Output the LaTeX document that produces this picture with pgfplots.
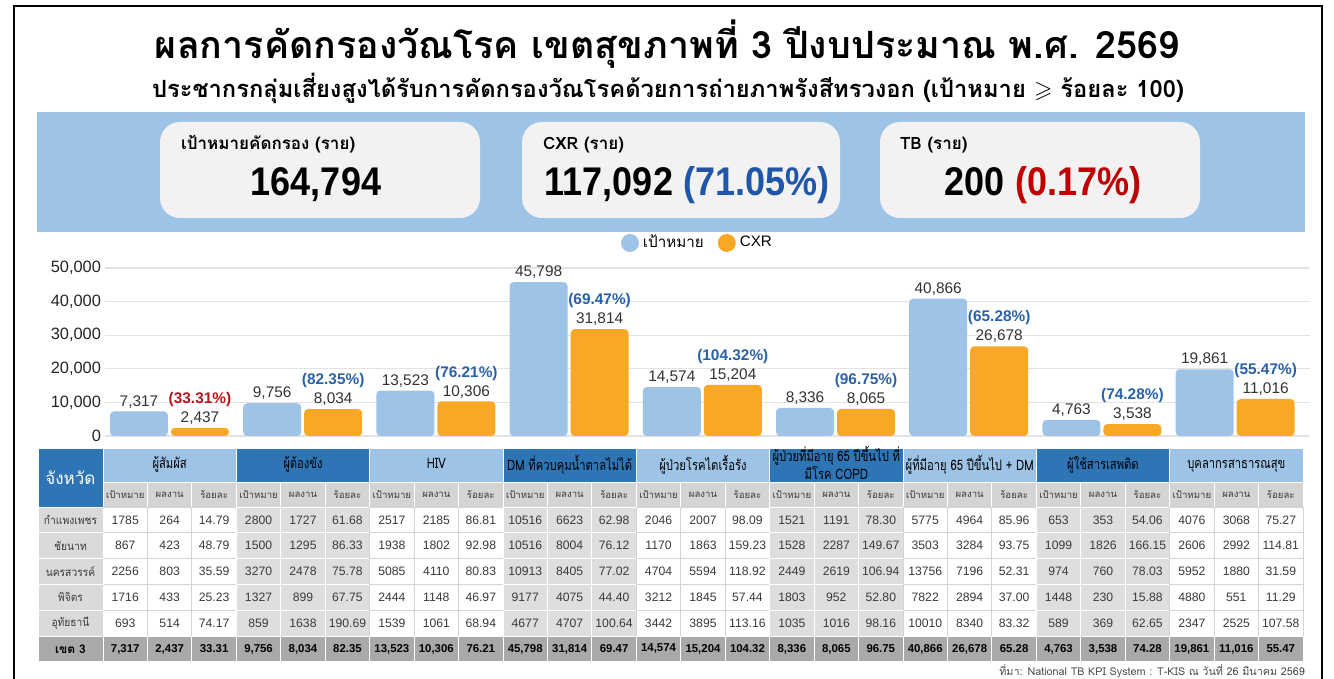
\documentclass[border=0pt]{standalone}
\usepackage{graphicx}
\usepackage{amssymb}
\usepackage{fontspec}
\usepackage{pgfplots}
\pgfplotsset{compat=1.18}
\setmainfont{Liberation Sans}
\newfontfamily\thai[Script=Thai]{Loma}
\definecolor{lblue}{HTML}{9DC3E6}
\definecolor{dblue}{HTML}{2E75B6}
\definecolor{orng}{HTML}{F9A825}
\definecolor{pctblue}{HTML}{2A62A8}
\definecolor{pctred}{HTML}{B3161C}
\definecolor{kblue}{HTML}{1F56A8}
\definecolor{kred}{HTML}{C00000}
\definecolor{boxgray}{HTML}{F2F2F2}
\definecolor{cellgray}{HTML}{DEDEDE}
\definecolor{subgray}{HTML}{D4D4D4}
\definecolor{namegray}{HTML}{DADADA}
\definecolor{totgray}{HTML}{A9A9A9}
\definecolor{gridc}{HTML}{E2E2E2}
\definecolor{txtgray}{HTML}{3A3A3A}
\DeclareRobustCommand\pl[3]{\textbf{\textcolor{#1}{(#2\%)}}\\#3}
\newcommand\rowvals[4]{%
  \foreach \v [count=\c from 0] in {#4} {
    \pgfmathsetmacro\xc{103+44.4444*(\c+0.5)}
    \node[font=#2, text=#3] at (\xc,#1) {\v};
  }}
\begin{document}
\begin{tikzpicture}
\begin{scope}[x=0.5pt,y=-0.5pt]
\path[use as bounding box] (0,0) rectangle (1334,679);
\fill[white] (0,0) rectangle (1334,679);
\draw[line width=1.1pt] (14,6) rectangle (1322,684);
% titles
\node at (667,44) {\resizebox{512pt}{!}{\thai\bfseries ผลการคัดกรองวัณโรค เขตสุขภาพที่ 3 ปีงบประมาณ พ.ศ. 2569}};
\node at (668,88) {\resizebox{516pt}{!}{\thai\bfseries ประชากรกลุ่มเสี่ยงสูงได้รับการคัดกรองวัณโรคด้วยการถ่ายภาพรังสีทรวงอก (เป้าหมาย $\geqslant$ ร้อยละ 100)}};
% KPI band
\fill[lblue] (37,112) rectangle (1305,232);
\fill[boxgray,rounded corners=10pt] (160,122) rectangle (480,218);
\fill[boxgray,rounded corners=10pt] (522,122) rectangle (840,218);
\fill[boxgray,rounded corners=10pt] (880,122) rectangle (1200,218);
\node[anchor=base west] at (174,150) {\thai\bfseries\fontsize{8.5}{10}\selectfont เป้าหมายคัดกรอง (ราย)};
\node[anchor=base west] at (536,150) {\thai\bfseries\fontsize{8.5}{10}\selectfont CXR (ราย)};
\node[anchor=base west] at (893,150) {\thai\bfseries\fontsize{8.5}{10}\selectfont TB (ราย)};
\node[anchor=base] at (316,196) {\scalebox{0.9}[1]{\bfseries\fontsize{20}{24}\selectfont 164,794}};
\node[anchor=base] at (687,196) {\scalebox{0.9}[1]{\bfseries\fontsize{20}{24}\selectfont 117,092 \textcolor{kblue}{(71.05\%)}}};
\node[anchor=base] at (1043,196) {\scalebox{0.9}[1]{\bfseries\fontsize{20}{24}\selectfont 200 \textcolor{kred}{(0.17\%)}}};
% table header
\filldraw[fill=dblue, draw=white, line width=0.5pt] (38,448) rectangle (103,507);
\node[text=white] at (70.5,478) {\thai\fontsize{8.5}{10}\selectfont จังหวัด};
\foreach \nm [count=\g from 0] in {{ผู้สัมผัส},{ผู้ต้องขัง},{HIV},{DM ที่ควบคุมน้ำตาลไม่ได้},{ผู้ป่วยโรคไตเรื้อรัง},{ผู้ป่วยที่มีอายุ 65 ปีขึ้นไป ที่\\มีโรค COPD},{ผู้ที่มีอายุ 65 ปีขึ้นไป + DM},{ผู้ใช้สารเสพติด},{บุคลากรสาธารณสุข}}{
  \pgfmathsetmacro\xa{103+133.3333*\g}
  \pgfmathsetmacro\xb{\xa+133.3333}
  \ifodd\g\relax \def\hc{dblue}\def\cc{cellgray}\def\lc{white}\else \def\hc{lblue}\def\cc{white}\def\lc{subgray}\fi
  \filldraw[fill=\hc, draw=white, line width=0.5pt] (\xa,448) rectangle (\xb,482);
  \node[inner sep=0pt] at ({(\xa+\xb)/2},465) {\scalebox{0.78}[1]{\thai\fontsize{7.2}{8}\selectfont\begin{tabular}{@{}c@{}}\nm\end{tabular}}};
  \foreach \k [count=\kk from 0] in {เป้าหมาย,ผลงาน,ร้อยละ}{
    \pgfmathsetmacro\xl{\xa+44.4444*\kk}
    \pgfmathsetmacro\xr{\xl+44.4444}
    \filldraw[fill=subgray, draw=white, line width=0.5pt] (\xl,482) rectangle (\xr,507);
    \node[font=\thai\fontsize{4.8}{6}\selectfont, text=txtgray] at ({(\xl+\xr)/2},494.5) {\k};
    \foreach \r in {0,...,4}{
      \filldraw[fill=\cc, draw=\lc, line width=0.5pt] (\xl,{507+25.8*\r}) rectangle (\xr,{507+25.8*(\r+1)});
    }
    \filldraw[fill=totgray, draw=white, line width=0.5pt] (\xl,636) rectangle (\xr,661.8);
  }
}
\foreach \nm [count=\r from 0] in {กำแพงเพชร,ชัยนาท,นครสวรรค์,พิจิตร,อุทัยธานี}{
  \filldraw[fill=namegray, draw=white, line width=0.5pt] (38,{507+25.8*\r}) rectangle (103,{507+25.8*(\r+1)});
  \node[text=txtgray] at (70.5,{507+25.8*(\r+0.5)}) {\scalebox{0.9}[1]{\thai\fontsize{5.7}{7}\selectfont \nm}};
}
\filldraw[fill=totgray, draw=white, line width=0.5pt] (38,636) rectangle (103,661.8);
\node[font=\thai\bfseries\fontsize{6}{7}\selectfont] at (70.5,648.9) {เขต 3};
\rowvals{519.9}{\fontsize{6.1}{7}\selectfont}{txtgray}{1785,264,14.79,2800,1727,61.68,2517,2185,86.81,10516,6623,62.98,2046,2007,98.09,1521,1191,78.30,5775,4964,85.96,653,353,54.06,4076,3068,75.27}
\rowvals{545.7}{\fontsize{6.1}{7}\selectfont}{txtgray}{867,423,48.79,1500,1295,86.33,1938,1802,92.98,10516,8004,76.12,1170,1863,159.23,1528,2287,149.67,3503,3284,93.75,1099,1826,166.15,2606,2992,114.81}
\rowvals{571.5}{\fontsize{6.1}{7}\selectfont}{txtgray}{2256,803,35.59,3270,2478,75.78,5085,4110,80.83,10913,8405,77.02,4704,5594,118.92,2449,2619,106.94,13756,7196,52.31,974,760,78.03,5952,1880,31.59}
\rowvals{597.3}{\fontsize{6.1}{7}\selectfont}{txtgray}{1716,433,25.23,1327,899,67.75,2444,1148,46.97,9177,4075,44.40,3212,1845,57.44,1803,952,52.80,7822,2894,37.00,1448,230,15.88,4880,551,11.29}
\rowvals{623.1}{\fontsize{6.1}{7}\selectfont}{txtgray}{693,514,74.17,859,1638,190.69,1539,1061,68.94,4677,4707,100.64,3442,3895,113.16,1035,1016,98.16,10010,8340,83.32,589,369,62.65,2347,2525,107.58}
\rowvals{648.9}{\fontsize{5.7}{7}\selectfont\bfseries}{black}{{7,317},{2,437},33.31,{9,756},{8,034},82.35,{13,523},{10,306},76.21,{45,798},{31,814},69.47,{14,574},{15,204},104.32,{8,336},{8,065},96.75,{40,866},{26,678},65.28,{4,763},{3,538},74.28,{19,861},{11,016},55.47}
\node[anchor=base east, font=\thai\fontsize{5.4}{7}\selectfont, text=black!70] at (1312,675) {ที่มา: National TB KPI System : T-KIS ณ วันที่ 26 มีนาคม 2569};
\end{scope}
\begin{axis}[
  at={(52.5pt,-218pt)}, anchor=south west,
  scale only axis, width=602.5pt, height=84pt,
  xmin=-0.484, xmax=8.562, ymin=0, ymax=50000,
  ytick={0,10000,20000,30000,40000,50000},
  yticklabels={0,{10,000},{20,000},{30,000},{40,000},{50,000}},
  scaled y ticks=false,
  xtick=\empty,
  ymajorgrids, grid style={gridc, line width=0.6pt},
  axis line style={draw=none},
  major tick length=0pt,
  yticklabel style={font=\fontsize{8.2}{10}\selectfont, text=black!85, xshift=1.5pt},
  /pgf/number format/assume math mode=true,
  clip=false,
  point meta=explicit symbolic,
  nodes near coords,
  every node near coord/.append style={font=\fontsize{7.7}{9.5}\selectfont, text=black!80, align=center, inner sep=1.5pt},
  legend style={draw=none, fill=none, at={(0.4925,1.149)}, anchor=center, legend columns=2, font=\fontsize{7.6}{9}\selectfont, /tikz/every even column/.append style={column sep=5pt}},
]
\addplot[ybar, bar width=29pt, bar shift=-15.25pt, fill=lblue, draw=none, rounded corners=2pt,
  every node near coord/.append style={xshift=-15.25pt},
  legend image code/.code={\fill[lblue] (0.4em,0) circle (4.5pt);}]
  table[x=x, y=y, meta=l] {
x y l
0 7317 7,317
1 9756 9,756
2 13523 13,523
3 45798 45,798
4 14574 14,574
5 8336 8,336
6 40866 40,866
7 4763 4,763
8 19861 19,861
};
\addlegendentry{\thai เป้าหมาย}
\addplot[ybar, bar width=29pt, bar shift=15.25pt, fill=orng, draw=none, rounded corners=2pt,
  every node near coord/.append style={xshift=15.25pt},
  legend image code/.code={\fill[orng] (0.4em,0) circle (4.5pt);}]
  table[x=x, y=y, meta=l] {
x y l
0 2437 \pl{pctred}{33.31}{2,437}
1 8034 \pl{pctblue}{82.35}{8,034}
2 10306 \pl{pctblue}{76.21}{10,306}
3 31814 \pl{pctblue}{69.47}{31,814}
4 15204 \pl{pctblue}{104.32}{15,204}
5 8065 \pl{pctblue}{96.75}{8,065}
6 26678 \pl{pctblue}{65.28}{26,678}
7 3538 \pl{pctblue}{74.28}{3,538}
8 11016 \pl{pctblue}{55.47}{11,016}
};
\addlegendentry{CXR}
\end{axis}
\end{tikzpicture}
\end{document}
